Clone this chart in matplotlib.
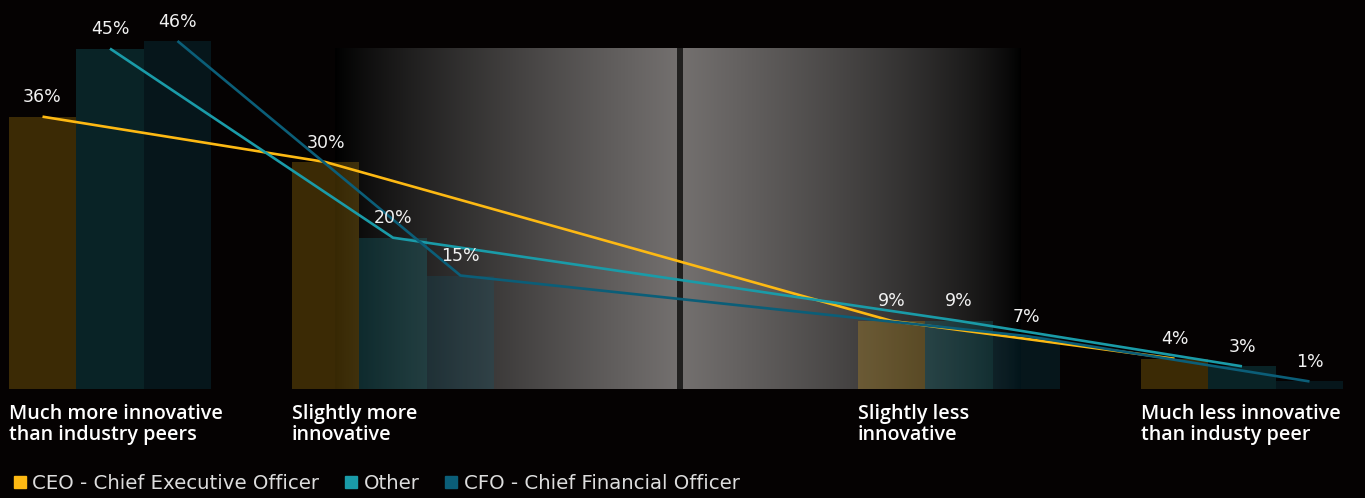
import numpy as np
import matplotlib
matplotlib.use("Agg")
import matplotlib.pyplot as plt
from matplotlib.lines import Line2D

# categories (middle slot has no answers)
categories = ["Much more innovative\nthan industry peers", "Slightly more\ninnovative", "",
              "Slightly less\ninnovative", "Much less innovative\nthan industy peer"]
series_names = ["CEO - Chief Executive Officer", "Other", "CFO - Chief Financial Officer"]
ceo = [36, 30, None, 9, 4]
other = [45, 20, None, 9, 3]
cfo = [46, 15, None, 7, 1]
colors = ["#FDB913", "#1A9BA8", "#0B5E78"]

W, H = 1365, 498
fig = plt.figure(figsize=(W / 100, H / 100), dpi=100, facecolor="#050202")

# axes: baseline at pixel 389, ~7.565 px per percent, group pitch 283 px
px_per_unit = 283.0
x0_px = 110.0
base_px = 389.0
px_per_pct = 7.565
ax = fig.add_axes([0, (H - base_px) / H, 1, base_px / H])
ax.set_facecolor("#050202")
ax.set_xlim(-x0_px / px_per_unit, (W - x0_px) / px_per_unit)
ax.set_ylim(0, base_px / px_per_pct)
ax.axis("off")

def px2x(p):
    return (p - x0_px) / px_per_unit

# background gradient panel (photo behind the chart)
cols = np.arange(335, 1021)
v = np.zeros(len(cols))
left = cols <= 676
u = (cols[left] - 335) / 341.0
v[left] = 115 * u ** 0.85
right = cols >= 683
u = (cols[right] - 683) / 337.0
v[right] = 115 * np.clip(1 - u, 0, 1) ** 0.75
stripe = (cols > 676) & (cols < 683)
v[stripe] = 33
img = np.stack([v * 1.0, v * 0.97, v * 0.96], axis=-1)[None, :, :] / 255.0
img = np.clip(img, 0, 1)
ax.imshow(img, extent=[px2x(335), px2x(1021), 0, (base_px - 48) / px_per_pct],
          aspect="auto", zorder=0, interpolation="bilinear")

bw = 67.5 / px_per_unit
offsets = [-bw, 0, bw]
all_series = [ceo, other, cfo]

for s, vals in enumerate(all_series):
    xs, ys = [], []
    for i, val in enumerate(vals):
        if val is None:
            continue
        x = i + offsets[s]
        ax.bar(x, val, width=bw, color=colors[s], alpha=0.22, zorder=2, linewidth=0)
        ax.annotate(f"{val}%", (x, val), xytext=(0, 7.5), textcoords="offset points",
                    ha="center", va="bottom", color="#f2f2f2", fontsize=12.5,
                    family="DejaVu Sans", zorder=5)
        xs.append(x)
        ys.append(val)
    ax.plot(xs, ys, color=colors[s], lw=1.9, zorder=4, solid_capstyle="butt")

# category labels under the bars
for i, lab in enumerate(categories):
    if not lab:
        continue
    fig.text((i * px_per_unit + x0_px - 1.5 * 67.5) / W, 1 - 404 / H, lab,
             ha="left", va="top", color="white", fontsize=14.2, family="Open Sans",
             fontweight="semibold", linespacing=1.05)

handles = [Line2D([], [], marker="s", ls="", color=c, markersize=8) for c in colors]
leg = fig.legend(handles, series_names, loc="center left", bbox_to_anchor=(-0.003, 1 - 483 / H),
                 ncol=3, frameon=False, handlelength=0.6, handletextpad=0.35,
                 columnspacing=1.3, prop={"family": "DejaVu Sans", "size": 14.2})
for t in leg.get_texts():
    t.set_color("#dddddd")

fig.savefig("out.png", dpi=100, facecolor=fig.get_facecolor())
